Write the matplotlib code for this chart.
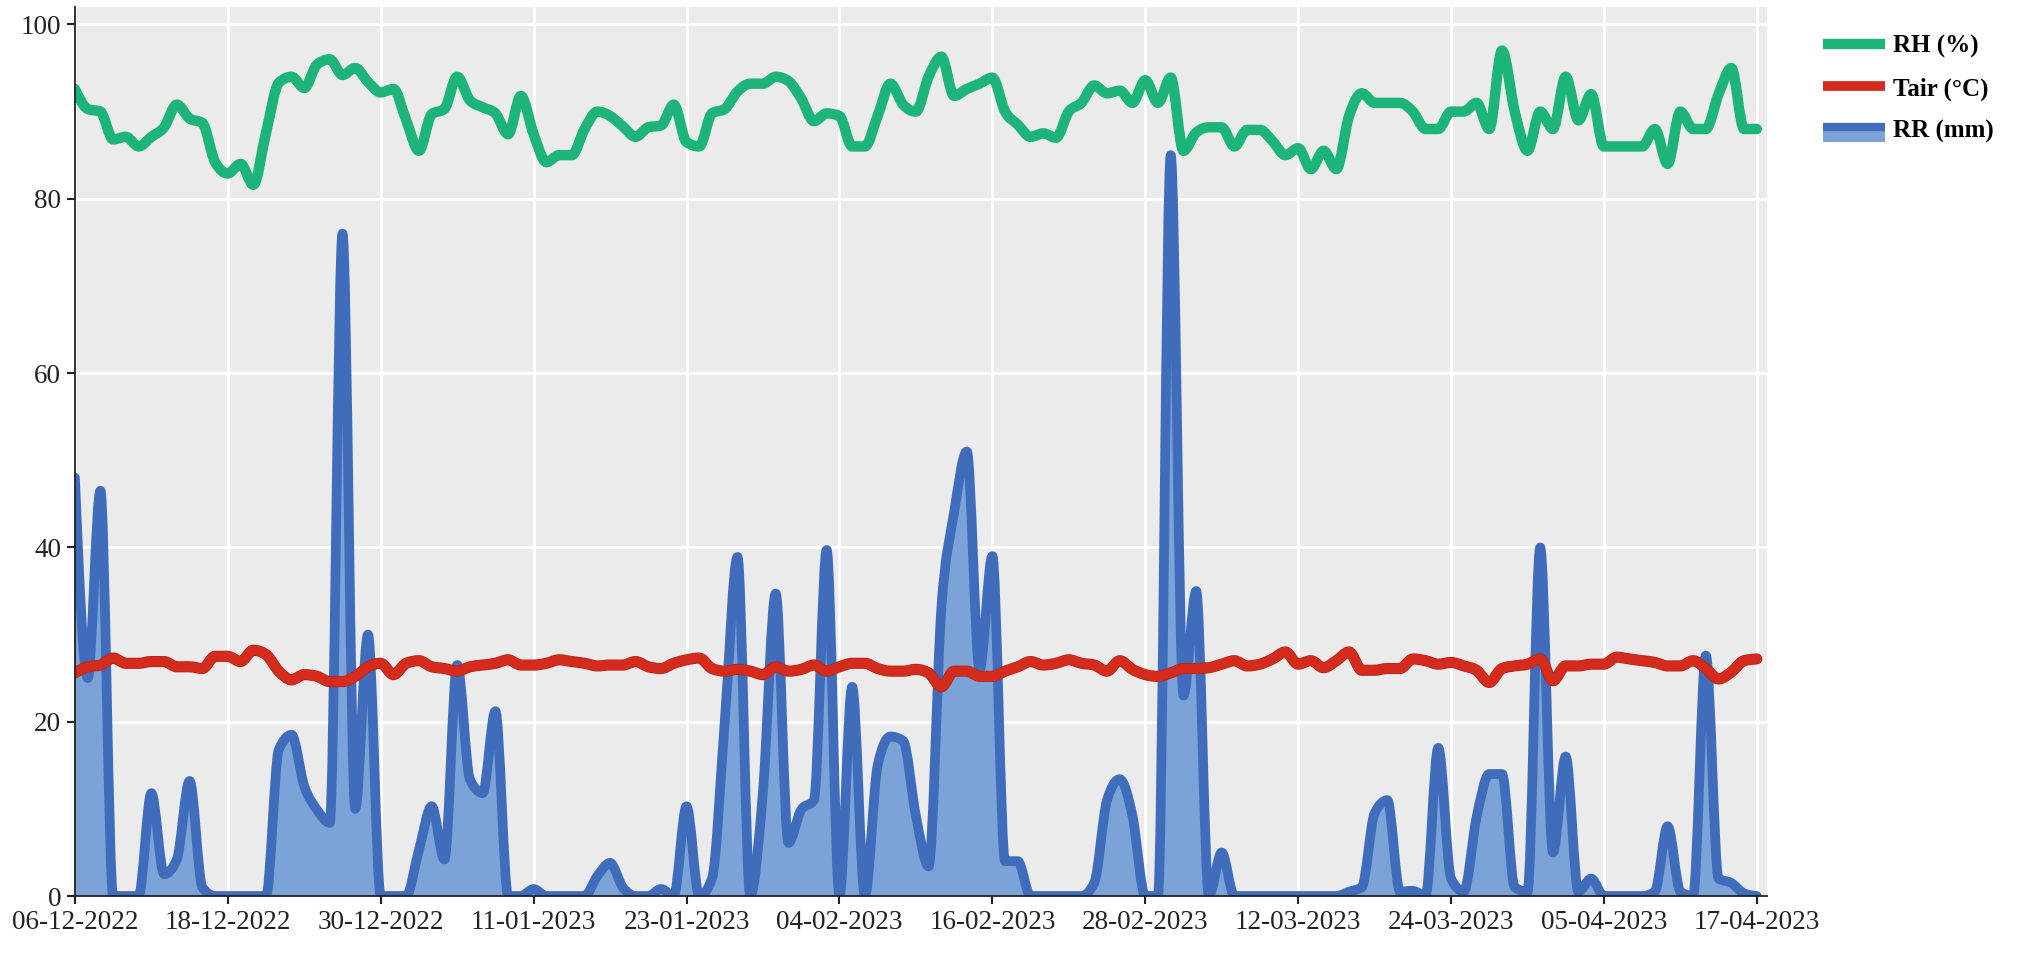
import matplotlib
matplotlib.use('Agg')
import matplotlib.pyplot as plt
import matplotlib.dates as mdates
import matplotlib.patheffects as pe
from matplotlib.legend_handler import HandlerBase
from matplotlib.patches import Rectangle, PathPatch
from matplotlib.path import Path
from matplotlib.lines import Line2D
import numpy as np
import pandas as pd

plt.rcParams['font.family'] = ['Liberation Serif', 'DejaVu Serif']

start_date = '2022-12-06'
tick_step = 12

# relative humidity (%), one value per day
rh = [92.6, 90.3, 90, 86.8, 87.1, 86, 87.1, 88.2, 90.8, 89.2, 88.7, 84.2, 82.9, 84, 81.6, 87.6, 93.3,
      94, 92.7, 95.4, 96, 94.2, 95, 93.4, 92.2, 92.6, 89, 85.5, 89.7, 90.3, 94, 91.3, 90.5, 89.8,
      87.4, 91.8, 87.4, 84.2, 85, 85, 88, 90, 89.5, 88.3, 87.1, 88.2, 88.4, 90.8, 86.5, 86, 89.8,
      90.3, 92.3, 93.2, 93.2, 94, 93.5, 91.5, 88.9, 89.8, 89.5, 86, 86, 89.5, 93.2, 90.8, 90, 94, 96.3,
      91.8, 92.6, 93.2, 93.9, 90, 88.5, 87.1, 87.5, 87, 90, 91, 93, 92.1, 92.4, 91, 93.6, 91,
      93.9, 85.5, 87.6, 88.2, 88.2, 86, 87.9, 87.9, 86.6, 85, 85.8, 83.4, 85.5, 83.4, 89.5, 92.1,
      91, 91, 91, 90, 88, 88, 90, 90, 91, 88, 97, 90, 85.5, 90, 88, 94, 89, 92, 86, 86,
      86, 86, 88, 84, 90, 88, 88, 92, 95, 88, 88]

# air temperature (degC)
tair = [25.6, 26.3, 26.5, 27.3, 26.7, 26.7, 26.9, 26.9, 26.3, 26.3, 26.1, 27.5, 27.5, 26.9, 28.2, 27.7,
        25.8, 24.8, 25.4, 25.2, 24.6, 24.6, 25.2, 26.3, 26.7, 25.4, 26.7, 27.0, 26.3, 26.1, 25.8, 26.3,
        26.5, 26.7, 27.1, 26.5, 26.5, 26.7, 27.1, 26.9, 26.7, 26.4, 26.5, 26.5,
        26.9, 26.3, 26.1, 26.7, 27.1, 27.3, 26.1, 25.8, 26.0, 25.8, 25.4, 26.3, 25.8, 26.0, 26.5, 25.8,
        26.3, 26.7, 26.7, 26.1, 25.8, 25.8, 26.0, 25.6, 24.0, 25.8, 25.8, 25.2, 25.2, 25.8, 26.3, 26.9,
        26.5, 26.7, 27.1, 26.7, 26.5, 25.8, 27.0, 26.0, 25.4, 25.2, 25.6, 26.1,
        26.1, 26.2, 26.6, 27.0, 26.4, 26.6, 27.2, 28.0, 26.6, 27.0, 26.2, 27.0, 28.0, 25.9, 25.9, 26.1,
        26.1, 27.2, 27.0, 26.6, 26.8, 26.4, 25.9, 24.5, 26.1, 26.4, 26.6, 27.2, 24.7, 26.4, 26.4, 26.6,
        26.6, 27.4, 27.2, 27.0, 26.8, 26.4, 26.4, 27.0, 26.1, 24.9, 25.7, 27.0, 27.2]

# rainfall (mm)
rr = [48, 25, 46.5, 0, 0, 0, 11.8, 2.5, 4.2, 13.2, 1, 0, 0, 0, 0, 0, 16.8, 18.5, 12.6, 9.9, 8.4,
      76, 10, 30, 0, 0, 0, 5.3, 10.3, 4.2, 26.5, 13.4, 11.8, 21.2, 0, 0, 0.8, 0, 0, 0, 0,
      2.3, 3.8, 1, 0, 0, 0.8, 0, 10.3, 0, 2, 20, 38.9, 0, 12, 34.7, 6.1, 9.9, 11, 39.7, 0,
      24, 0, 15, 18.3, 17.8, 9.2, 3.4, 33, 44, 51, 26, 39, 4, 4, 0, 0, 0, 0, 0, 1.5,
      11, 13.4, 9.2, 0, 0, 85, 23, 35, 0, 5, 0, 0, 0, 0, 0, 0, 0, 0, 0, 0.5,
      1, 9.5, 11, 0.5, 0.6, 0, 17, 2, 0.5, 9, 14, 14, 1, 0.5, 40, 5, 16, 0.5, 2, 0,
      0, 0, 0, 0.5, 8, 0.5, 0, 27.6, 2, 1.5, 0.3, 0]

c_rh = '#1db47a'
c_tair = '#d42b1d'
c_rr = '#3f6dbb'
c_fill = '#7ba3d8'

days = pd.date_range(start_date, periods=len(rh), freq='D')
xnum = mdates.date2num(days)


def monotone_path(x, y, close_to=None):
    # smooth monotone curve through the points (same idea as d3 curveMonotoneX)
    x = np.asarray(x, float)
    y = np.asarray(y, float)
    n = len(x)
    h = np.diff(x)
    s = np.diff(y) / h
    m = np.zeros(n)
    for i in range(1, n - 1):
        p = (s[i - 1] * h[i] + s[i] * h[i - 1]) / (h[i - 1] + h[i])
        m[i] = (np.sign(s[i - 1]) + np.sign(s[i])) * min(abs(s[i - 1]), abs(s[i]), 0.5 * abs(p))
    m[0] = (3 * s[0] - m[1]) / 2
    m[-1] = (3 * s[-1] - m[-2]) / 2
    verts = [(x[0], y[0])]
    codes = [Path.MOVETO]
    for i in range(n - 1):
        dx = h[i] / 3
        verts += [(x[i] + dx, y[i] + m[i] * dx), (x[i + 1] - dx, y[i + 1] - m[i + 1] * dx), (x[i + 1], y[i + 1])]
        codes += [Path.CURVE4] * 3
    if close_to is not None:
        verts += [(x[-1], close_to), (x[0], close_to), (x[0], y[0])]
        codes += [Path.LINETO, Path.LINETO, Path.CLOSEPOLY]
    return Path(verts, codes)


class HandlerArea(HandlerBase):
    # blue line on top of its light fill, like the RR legend key
    def create_artists(self, legend, orig_handle, xdescent, ydescent,
                       width, height, fontsize, trans):
        x0 = -xdescent
        y0 = -ydescent
        fill = Rectangle((x0, y0 - 0.25 * height), width, 0.9 * height,
                         facecolor=c_fill, edgecolor='none', transform=trans)
        line = Line2D([x0, x0 + width], [y0 + 0.6 * height] * 2, color=c_rr,
                      lw=6, solid_capstyle='butt', transform=trans)
        return [fill, line]


fig = plt.figure(figsize=(20.25, 9.58), dpi=100)
ax = fig.add_axes([0.037, 0.0647, 0.8356, 0.928])
ax.xaxis_date()

ax.set_facecolor('#ebebeb')
ax.grid(True, color='white', linewidth=2)
ax.set_axisbelow(True)

ax.add_patch(PathPatch(monotone_path(xnum, rr, close_to=0), facecolor=c_fill, edgecolor='none', zorder=2))
ax.add_patch(PathPatch(monotone_path(xnum, rr), facecolor='none', edgecolor=c_rr, lw=7,
                       joinstyle='round', capstyle='round', zorder=3))
ax.add_patch(PathPatch(monotone_path(xnum, tair), facecolor='none', edgecolor=c_tair, lw=7,
                       joinstyle='round', capstyle='round', zorder=4,
                       path_effects=[pe.Stroke(linewidth=8, foreground='#b02418'), pe.Normal()]))
ax.add_patch(PathPatch(monotone_path(xnum, rh), facecolor='none', edgecolor=c_rh, lw=7.5,
                       joinstyle='round', capstyle='round', zorder=5))

ax.set_ylim(0, 102)
ax.set_yticks([0, 20, 40, 60, 80, 100])
ax.set_xlim(days[0], days[0] + pd.Timedelta(days=132.8))
ax.set_xticks(days[::tick_step])
ax.xaxis.set_major_formatter(mdates.DateFormatter('%d-%m-%Y'))

for s in ['top', 'right']:
    ax.spines[s].set_visible(False)
for s in ['left', 'bottom']:
    ax.spines[s].set_color('#222222')
    ax.spines[s].set_linewidth(1.3)
    ax.spines[s].set_zorder(6)
ax.tick_params(axis='both', direction='out', length=6, width=1.5, color='#222222',
               labelsize=19.5, labelcolor='#222222', pad=4)

h_rh = Line2D([], [], color=c_rh, lw=7.5, solid_capstyle='butt')
h_tair = Line2D([], [], color=c_tair, lw=7, solid_capstyle='butt')
h_rr = Rectangle((0, 0), 1, 1)
fig.legend([h_rh, h_tair, h_rr], ['RH (%)', 'Tair (°C)', 'RR (mm)'],
           loc='upper left', bbox_to_anchor=(0.889, 0.987), frameon=False,
           prop={'weight': 'bold', 'size': 18}, handlelength=2.5, handletextpad=0.3,
           labelspacing=0.75, handler_map={Rectangle: HandlerArea()})

fig.savefig('out.png', dpi=100)
